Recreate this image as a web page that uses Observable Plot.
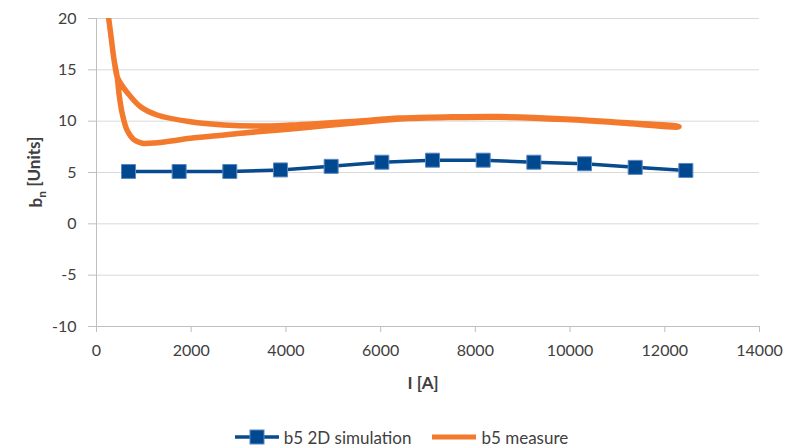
<!DOCTYPE html>
<html>
<head>
<meta charset="utf-8">
<script src="https://cdn.jsdelivr.net/npm/d3@7"></script>
<script src="https://cdn.jsdelivr.net/npm/@observablehq/plot@0.6"></script>
<style>
  html, body { margin: 0; padding: 0; background: #fff; }
  body { position: relative; width: 802px; height: 447px; overflow: hidden; font-family: Lato, "Open Sans", sans-serif; }
  #legend { position: absolute; left: 0; top: 427px; width: 802px; height: 20px; display: flex; justify-content: center; align-items: center; gap: 20px; font-size: 17px; color: #404040; }
  .item { display: flex; align-items: center; gap: 4px; }
</style>
</head>
<body>
<div id="chart"></div>
<div id="legend"></div>
<script>
// Data
const simI = [676, 1745, 2815, 3885, 4955, 6025, 7095, 8165, 9235, 10305, 11375, 12445];
const simB = [5.1, 5.1, 5.1, 5.25, 5.6, 6.0, 6.2, 6.2, 6.0, 5.85, 5.5, 5.2];

// measured hysteresis loop: lower branch (increasing I) then upper branch (decreasing I)
const measI = [240, 300, 370, 437, 480, 543, 648, 788, 965, 1280, 1985, 2690, 3400, 4100, 4800, 5500, 6400, 7500, 8500, 9900, 11300, 12270,
               12300, 11300, 9900, 8500, 7500, 6400, 5500, 4800, 4100, 3400, 2690, 1985, 1280, 930, 648, 507, 437, 370, 300, 240];
const measB = [20.6, 18.5, 16.0, 14.3, 12.5, 10.75, 9.1, 8.2, 7.85, 7.9, 8.33, 8.65, 8.97, 9.23, 9.55, 9.85, 10.2, 10.35, 10.38, 10.15, 9.75, 9.42,
               9.48, 9.82, 10.22, 10.45, 10.42, 10.3, 10.0, 9.8, 9.62, 9.52, 9.62, 9.94, 10.6, 11.4, 12.8, 13.7, 14.3, 16.0, 18.5, 20.6];

const xTicks = [0, 2000, 4000, 6000, 8000, 10000, 12000, 14000];
const yTicks = [-10, -5, 0, 5, 10, 15, 20];

const sim = simI.map((I, i) => ({I, b: simB[i]}));
const meas = measI.map((I, i) => ({I, b: measB[i]}));

const blue = "#074A8E";
const orange = "#F3792C";

const chart = Plot.plot({
  width: 802,
  height: 410,
  marginLeft: 96,
  marginRight: 43,
  marginTop: 18,
  marginBottom: 84,
  style: {fontFamily: "Lato, 'Open Sans', sans-serif", fontSize: "16px", color: "#404040", background: "#fff"},
  x: {domain: [0, 14000]},
  y: {domain: [-10, 20]},
  marks: [
    Plot.gridY(yTicks, {stroke: "#d9d9d9", strokeOpacity: 1, strokeWidth: 1}),
    Plot.ruleY([-10], {stroke: "#bfbfbf", strokeWidth: 1}),
    Plot.ruleX([0], {stroke: "#bfbfbf", strokeWidth: 1}),
    Plot.axisY(yTicks, {tickSize: 8, tickPadding: 12, stroke: "#bfbfbf", fill: "#404040", label: null, fontSize: 16, tickFormat: d => String(d)}),
    Plot.axisX(xTicks, {tickSize: 6, tickPadding: 12, stroke: "#bfbfbf", fill: "#404040", label: null, fontSize: 16, tickFormat: d => String(d)}),
    Plot.line(meas, {x: "I", y: "b", stroke: orange, strokeWidth: 5.5, strokeLinejoin: "round", strokeLinecap: "round", curve: "catmull-rom", clip: true}),
    Plot.line(sim, {x: "I", y: "b", stroke: blue, strokeWidth: 3.5}),
    Plot.dot(sim, {x: "I", y: "b", symbol: "square", r: 7.9, fill: "#00488F", stroke: "#5B86C0", strokeWidth: 1})
  ]
});
document.getElementById("chart").appendChild(chart);

// axis titles
const svg = d3.select(chart);
svg.append("text")
  .attr("x", 423).attr("y", 389)
  .attr("text-anchor", "middle")
  .attr("font-weight", "bold").attr("font-size", 17).attr("fill", "#404040")
  .text("I [A]");
const yl = svg.append("text")
  .attr("transform", "translate(42,172) rotate(-90)")
  .attr("text-anchor", "middle")
  .attr("font-weight", "bold").attr("font-size", 17).attr("fill", "#404040");
yl.append("tspan").text("b");
yl.append("tspan").attr("dy", "0.35em").attr("font-size", 12).text("n");
yl.append("tspan").attr("dy", "-0.35em").text(" [Units]");

// legend
const legend = d3.select("#legend");
const it1 = legend.append("div").attr("class", "item");
const s1 = it1.append("svg").attr("width", 46).attr("height", 16);
s1.append("line").attr("x1", 1).attr("x2", 45).attr("y1", 8).attr("y2", 8).attr("stroke", blue).attr("stroke-width", 3.5);
s1.append("rect").attr("x", 16).attr("y", 1).attr("width", 14).attr("height", 14).attr("fill", "#00488F").attr("stroke", "#5B86C0");
it1.append("span").text("b5 2D simulation");
const it2 = legend.append("div").attr("class", "item");
const s2 = it2.append("svg").attr("width", 46).attr("height", 16);
s2.append("line").attr("x1", 1).attr("x2", 45).attr("y1", 8).attr("y2", 8).attr("stroke", orange).attr("stroke-width", 5);
it2.append("span").text("b5 measure");
</script>
</body>
</html>
